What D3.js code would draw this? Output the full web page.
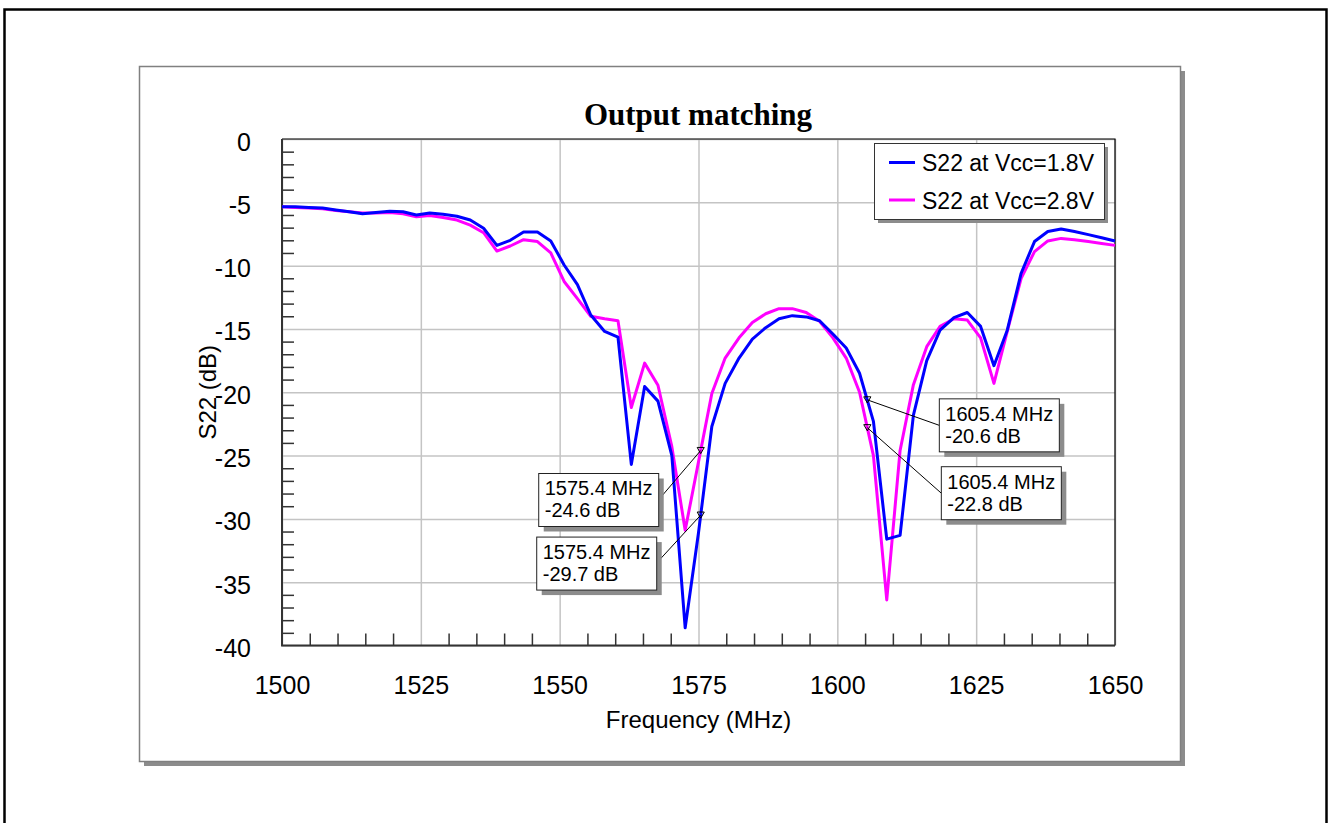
<!DOCTYPE html>
<html>
<head>
<meta charset="utf-8">
<title>Output matching</title>
<script src="https://cdn.jsdelivr.net/npm/d3@7"></script>
<style>
    body { margin: 0; background: #fff; }
    svg { display: block; }
    .tick-label { font-family: "Liberation Sans", Arial, sans-serif; font-size: 25px; fill: #000; }
    .axis-title { font-family: "Liberation Sans", Arial, sans-serif; font-size: 24px; fill: #000; }
    .chart-title { font-family: "Liberation Serif", "Times New Roman", serif; font-size: 31px; font-weight: bold; }
    .legend-text { font-family: "Liberation Sans", Arial, sans-serif; font-size: 23px; }
    .callout-text { font-family: "Liberation Sans", Arial, sans-serif; font-size: 20px; }
</style>
</head>
<body>
<svg id="chart" width="1331" height="823"></svg>
<script>
// Frequency sweep (MHz)
const freqMHz = [
    1500.0, 1502.4, 1504.8, 1507.3, 1509.7, 1512.1, 1514.5, 1516.9, 1519.4, 1521.8,
    1524.2, 1526.6, 1529.0, 1531.5, 1533.9, 1536.3, 1538.7, 1541.1, 1543.5, 1546.0,
    1548.4, 1550.8, 1553.2, 1555.6, 1558.1, 1560.5, 1562.9, 1565.3, 1567.7, 1570.2,
    1572.6, 1575.0, 1577.4, 1579.8, 1582.3, 1584.7, 1587.1, 1589.5, 1591.9, 1594.4,
    1596.8, 1599.2, 1601.6, 1604.0, 1606.5, 1608.9, 1611.3, 1613.7, 1616.1, 1618.5,
    1621.0, 1623.4, 1625.8, 1628.2, 1630.6, 1633.1, 1635.5, 1637.9, 1640.3, 1642.7,
    1645.2, 1647.6, 1650.0
];

// S22 (dB) at Vcc = 1.8 V
const s22At18V = [
    -5.35, -5.35, -5.4, -5.45, -5.6, -5.75, -5.9, -5.8, -5.7, -5.75,
    -6.0, -5.85, -5.95, -6.1, -6.4, -7.05, -8.4, -8.0, -7.35, -7.35,
    -8.05, -9.95, -11.5, -13.9, -15.2, -15.65, -25.7, -19.55, -20.7, -25.0,
    -38.6, -31.1, -22.7, -19.3, -17.3, -15.8, -14.9, -14.2, -13.95, -14.05,
    -14.35, -15.4, -16.5, -18.5, -22.3, -31.6, -31.3, -21.8, -17.5, -15.1,
    -14.1, -13.7, -14.8, -17.9, -15.1, -10.6, -8.1, -7.3, -7.1, -7.3,
    -7.55, -7.8, -8.05
];

// S22 (dB) at Vcc = 2.8 V
const s22At28V = [
    -5.35, -5.4, -5.45, -5.5, -5.65, -5.75, -5.85, -5.85, -5.8, -5.9,
    -6.15, -6.05, -6.2, -6.4, -6.8, -7.4, -8.85, -8.45, -7.95, -8.1,
    -9.0, -11.25, -12.6, -14.0, -14.2, -14.35, -21.2, -17.7, -19.45, -24.3,
    -30.9, -25.5, -20.1, -17.3, -15.7, -14.5, -13.8, -13.4, -13.4, -13.7,
    -14.4, -15.7, -17.3, -20.0, -25.0, -36.4, -24.6, -19.4, -16.4, -14.8,
    -14.2, -14.3, -15.7, -19.3, -15.2, -11.0, -8.9, -8.05, -7.85, -7.95,
    -8.1, -8.25, -8.4
];

const seriesNames = ['S22 at Vcc=1.8V', 'S22 at Vcc=2.8V'];
const seriesColors = ['#0000ff', '#ff00ff'];

const xTickValues = [1500, 1525, 1550, 1575, 1600, 1625, 1650];
const yTickValues = [0, -5, -10, -15, -20, -25, -30, -35, -40];

// marker readouts: frequency, value, which series
const markerFreqs = [1575.4, 1575.4, 1605.4, 1605.4];
const markerValues = [-24.6, -29.7, -20.6, -22.8];
const markerSeries = [1, 0, 0, 1];


class OutputMatchingChart {

    constructor() {
        this.svg = d3.select('#chart');
        // plot area in page pixels
        this.plot = { left: 282, top: 139, right: 1115, bottom: 645.5 };
        this.width = this.plot.right - this.plot.left;
        this.height = this.plot.bottom - this.plot.top;

        this.xScale = d3.scaleLinear().domain([1500, 1650]).range([0, this.width]);
        this.yScale = d3.scaleLinear().domain([-40, 0]).range([this.height, 0]);
    }

    drawFrames() {
        // outer page frame
        this.svg.append('rect')
            .attr('x', 4.5).attr('y', 9.5)
            .attr('width', 1322).attr('height', 830)
            .attr('fill', 'none')
            .attr('stroke', '#000')
            .attr('stroke-width', 2.5);

        // chart panel with drop shadow
        this.svg.append('rect')
            .attr('x', 144).attr('y', 71)
            .attr('width', 1041).attr('height', 695)
            .attr('fill', '#8c8c8c');
        this.svg.append('rect')
            .attr('x', 139.5).attr('y', 66.5)
            .attr('width', 1041).attr('height', 695)
            .attr('fill', '#fff')
            .attr('stroke', '#808080')
            .attr('stroke-width', 1.5);
    }

    drawAxes() {
        const g = this.svg.append('g')
            .attr('transform', `translate(${this.plot.left}, ${this.plot.top})`);
        this.g = g;

        // grid
        g.append('g')
            .attr('transform', `translate(0, ${this.height})`)
            .call(d3.axisBottom(this.xScale).tickValues(xTickValues).tickSize(-this.height).tickFormat(''))
            .call(a => a.select('.domain').remove())
            .call(a => a.selectAll('line').attr('stroke', '#c4c4c4').attr('stroke-width', 1.5));
        g.append('g')
            .call(d3.axisLeft(this.yScale).tickValues(yTickValues).tickSize(-this.width).tickFormat(''))
            .call(a => a.select('.domain').remove())
            .call(a => a.selectAll('line').attr('stroke', '#c4c4c4').attr('stroke-width', 1.5));

        // minor ticks, pointing into the plot
        const xMinor = d3.range(1505, 1650, 5).filter(v => v % 25 !== 0);
        const yMinor = d3.range(-39, 0, 1).filter(v => v % 5 !== 0);
        g.append('g')
            .attr('transform', `translate(0, ${this.height})`)
            .call(d3.axisBottom(this.xScale).tickValues(xMinor).tickSize(-12).tickFormat(''))
            .call(a => a.select('.domain').remove())
            .call(a => a.selectAll('line').attr('stroke', '#333').attr('stroke-width', 1.5));
        g.append('g')
            .call(d3.axisLeft(this.yScale).tickValues(yMinor).tickSize(-12).tickFormat(''))
            .call(a => a.select('.domain').remove())
            .call(a => a.selectAll('line').attr('stroke', '#333').attr('stroke-width', 1.5));

        // plot border: heavier on the axis sides
        g.append('path')
            .attr('d', `M0,0H${this.width}V${this.height}`)
            .attr('fill', 'none').attr('stroke', '#000').attr('stroke-width', 1.2);
        g.append('path')
            .attr('d', `M0,0V${this.height}H${this.width}`)
            .attr('fill', 'none').attr('stroke', '#333').attr('stroke-width', 2);

        // tick labels (plain hyphen for negatives)
        const plain = d => String(d);
        const xAxis = g.append('g')
            .attr('transform', `translate(0, ${this.height + 28})`)
            .call(d3.axisBottom(this.xScale).tickValues(xTickValues).tickSize(0).tickFormat(plain));
        xAxis.select('.domain').remove();
        xAxis.selectAll('text').attr('class', 'tick-label').attr('font-size', null).attr('font-family', null);

        const yAxis = g.append('g')
            .attr('transform', 'translate(-28, 3)')
            .call(d3.axisLeft(this.yScale).tickValues(yTickValues).tickSize(0).tickFormat(plain));
        yAxis.select('.domain').remove();
        yAxis.selectAll('text').attr('class', 'tick-label').attr('font-size', null).attr('font-family', null);

        // axis titles
        this.svg.append('text')
            .attr('class', 'axis-title')
            .attr('x', this.plot.left + this.width / 2)
            .attr('y', 728)
            .attr('text-anchor', 'middle')
            .text('Frequency (MHz)');
        this.svg.append('text')
            .attr('class', 'axis-title')
            .attr('transform', `translate(216, ${this.plot.top + this.height / 2}) rotate(-90)`)
            .attr('text-anchor', 'middle')
            .text('S22 (dB)');

        this.svg.append('text')
            .attr('class', 'chart-title')
            .attr('x', 698)
            .attr('y', 125)
            .attr('text-anchor', 'middle')
            .text('Output matching');
    }

    drawLines() {
        const series = [s22At18V, s22At28V];
        const line = d3.line()
            .x(d => this.xScale(d[0]))
            .y(d => this.yScale(d[1]));

        // 2.8 V first so the 1.8 V trace sits on top
        [1, 0].forEach(i => {
            this.g.append('path')
                .datum(d3.zip(freqMHz, series[i]))
                .attr('d', line)
                .attr('fill', 'none')
                .attr('stroke', seriesColors[i])
                .attr('stroke-width', 3)
                .attr('stroke-linejoin', 'round');
        });
    }

    drawLegend() {
        const lg = this.svg.append('g').attr('transform', 'translate(874, 143)');
        lg.append('rect')
            .attr('x', 4).attr('y', 4).attr('width', 230).attr('height', 76)
            .attr('fill', '#8c8c8c');
        lg.append('rect')
            .attr('x', 0.5).attr('y', 0.5).attr('width', 230).attr('height', 76)
            .attr('fill', '#fff').attr('stroke', '#333').attr('stroke-width', 1);

        seriesNames.forEach((name, i) => {
            const y = 19.5 + i * 37.5;
            lg.append('line')
                .attr('x1', 15).attr('x2', 41)
                .attr('y1', y).attr('y2', y)
                .attr('stroke', seriesColors[i]).attr('stroke-width', 3);
            lg.append('text')
                .attr('class', 'legend-text')
                .attr('x', 48).attr('y', y + 8.5)
                .text(name);
        });
    }

    drawCallouts() {
        // box offsets from the marker point, page pixels
        const boxOffsets = [[-162, 23], [-164, 22], [72, -1], [74, 39]];
        const boxW = 120, boxH = 53;

        markerFreqs.forEach((f, i) => {
            const mx = this.xScale(f);
            const my = this.yScale(markerValues[i]);
            const bx = mx + boxOffsets[i][0];
            const by = my + boxOffsets[i][1];
            const onLeft = boxOffsets[i][0] < 0;

            // leader line from box edge to the marker
            const sx = onLeft ? bx + boxW + 4 : bx;
            const sy = onLeft ? by + boxH / 2 - 5 : by + boxH / 2;
            this.g.append('line')
                .attr('x1', sx).attr('y1', sy)
                .attr('x2', mx).attr('y2', my)
                .attr('stroke', '#000').attr('stroke-width', 1);

            this.g.append('path')
                .attr('transform', `translate(${mx}, ${my - 1}) rotate(180)`)
                .attr('d', d3.symbol(d3.symbolTriangle, 22)())
                .attr('fill', 'none')
                .attr('stroke', '#000')
                .attr('stroke-width', 1);

            this.g.append('rect')
                .attr('x', bx + 5).attr('y', by + 5)
                .attr('width', boxW).attr('height', boxH)
                .attr('fill', '#8c8c8c');
            this.g.append('rect')
                .attr('x', bx).attr('y', by)
                .attr('width', boxW).attr('height', boxH)
                .attr('fill', '#fff').attr('stroke', '#222').attr('stroke-width', 1);

            const t = this.g.append('text')
                .attr('class', 'callout-text')
                .attr('x', bx + 6);
            t.append('tspan').attr('x', bx + 6).attr('y', by + 22).text(`${f.toFixed(1)} MHz`);
            t.append('tspan').attr('x', bx + 6).attr('y', by + 44).text(`${markerValues[i].toFixed(1)} dB`);
        });
    }

    draw() {
        this.drawFrames();
        this.drawAxes();
        this.drawLines();
        this.drawLegend();
        this.drawCallouts();
    }
}

const chart = new OutputMatchingChart();
chart.draw();
</script>
</body>
</html>
